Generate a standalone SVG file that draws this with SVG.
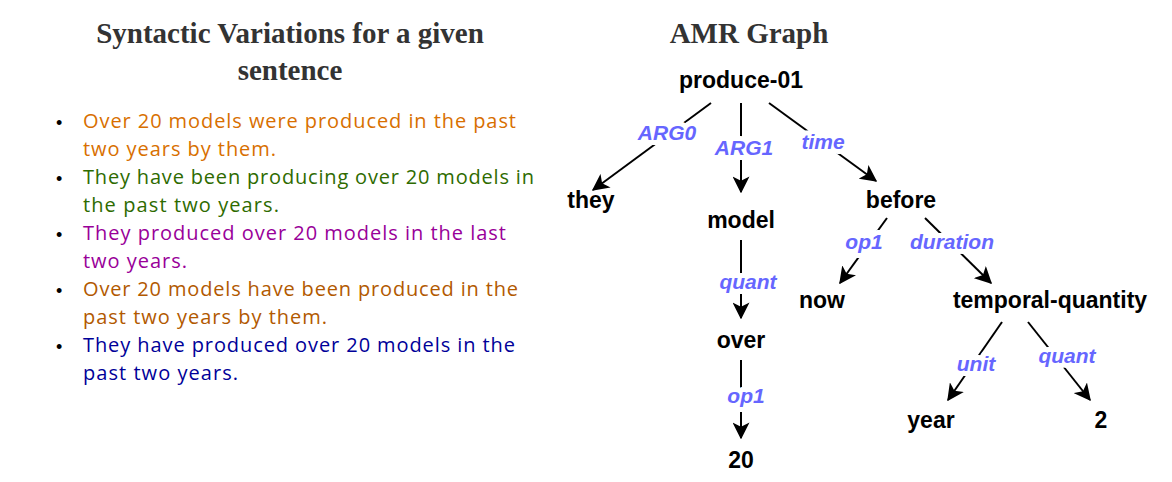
<svg xmlns="http://www.w3.org/2000/svg" width="1172" height="482" viewBox="0 0 1172 482">
<defs>
<marker id="ah" viewBox="0 0 12 12" refX="11" refY="6" markerWidth="17" markerHeight="17" markerUnits="userSpaceOnUse" orient="auto">
<path d="M0,0 L12,6 L0,12 L3,6 Z" fill="#000"/>
</marker>
</defs>
<style>
.t{font-family:"Liberation Serif",serif;font-weight:bold;font-size:29px;fill:#333;text-anchor:middle}
.s{font-family:"Open Sans","DejaVu Sans",sans-serif;font-size:20px}
.b{font-family:"Liberation Sans",Arial,sans-serif;font-size:18px;fill:#000}
.n{font-family:"Liberation Sans",Arial,sans-serif;font-weight:bold;font-size:23px;fill:#000;text-anchor:middle}
.l{font-family:"Liberation Sans",Arial,sans-serif;font-weight:bold;font-style:italic;font-size:21px;fill:#6666ff;text-anchor:middle;stroke:#fff;stroke-width:10;paint-order:stroke;stroke-linejoin:round}
.e{stroke:#000;stroke-width:2;fill:none;marker-end:url(#ah)}
</style>
<rect width="1172" height="482" fill="#fff"/>
<text class="t" x="290" y="43">Syntactic Variations for a given</text>
<text class="t" x="290" y="80">sentence</text>
<g id="list">
<text class="b" x="56" y="129">•</text><text class="b" x="56" y="185">•</text><text class="b" x="56" y="241">•</text><text class="b" x="56" y="297">•</text><text class="b" x="56" y="353">•</text>
<text class="s" x="83" y="128" fill="#d86f00" textLength="433">Over 20 models were produced in the past</text>
<text class="s" x="83" y="156" fill="#d86f00" textLength="193">two years by them.</text>
<text class="s" x="83" y="184" fill="#2e6b00" textLength="451">They have been producing over 20 models in</text>
<text class="s" x="83" y="212" fill="#2e6b00" textLength="196">the past two years.</text>
<text class="s" x="83" y="240" fill="#990099" textLength="423">They produced over 20 models in the last</text>
<text class="s" x="83" y="268" fill="#990099" textLength="104">two years.</text>
<text class="s" x="83" y="296" fill="#b25900" textLength="435">Over 20 models have been produced in the</text>
<text class="s" x="83" y="324" fill="#b25900" textLength="244">past two years by them.</text>
<text class="s" x="83" y="352" fill="#000099" textLength="432">They have produced over 20 models in the</text>
<text class="s" x="83" y="380" fill="#000099" textLength="155">past two years.</text>
</g>
<text class="t" x="749" y="43">AMR Graph</text>
<g id="edges">
<line class="e" x1="711" y1="103" x2="593" y2="190"/>
<line class="e" x1="741" y1="103" x2="741" y2="192"/>
<line class="e" x1="769" y1="103" x2="876" y2="181"/>
<line class="e" x1="887" y1="218" x2="840" y2="283"/>
<line class="e" x1="925" y1="218" x2="991" y2="283"/>
<line class="e" x1="741" y1="240" x2="741" y2="318"/>
<line class="e" x1="741" y1="360" x2="741" y2="438"/>
<line class="e" x1="1002" y1="322" x2="948" y2="400"/>
<line class="e" x1="1028" y1="322" x2="1090" y2="400"/>
<text class="l" x="667" y="140">ARG0</text>
<text class="l" x="744" y="155">ARG1</text>
<text class="l" x="823" y="149">time</text>
<text class="l" x="864" y="249">op1</text>
<text class="l" x="952" y="249">duration</text>
<text class="l" x="748" y="289">quant</text>
<text class="l" x="746" y="403">op1</text>
<text class="l" x="976" y="371">unit</text>
<text class="l" x="1067" y="363">quant</text>
</g>
<g id="produce"><text class="n" x="741" y="88">produce-01</text></g>
<g id="they"><text class="n" x="591" y="208">they</text></g>
<g id="model"><text class="n" x="741" y="228">model</text></g>
<g id="before"><text class="n" x="901" y="208">before</text></g>
<g id="now"><text class="n" x="822" y="308">now</text></g>
<g id="tq"><text class="n" x="1050" y="308">temporal-quantity</text></g>
<g id="over"><text class="n" x="741" y="348">over</text></g>
<g id="year"><text class="n" x="931" y="428">year</text></g>
<g id="two"><text class="n" x="1101" y="428">2</text></g>
<g id="twenty"><text class="n" x="741" y="468">20</text></g>
</svg>
